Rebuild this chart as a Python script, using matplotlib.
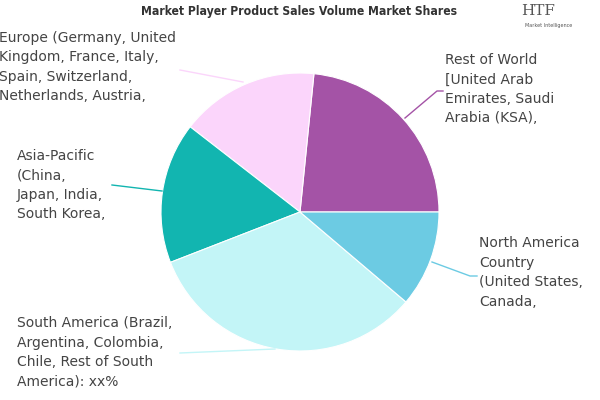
import numpy as np
import matplotlib
matplotlib.use("Agg")
import matplotlib.pyplot as plt

# slice data, counter-clockwise from 3 o'clock
regions = ["Rest of World", "Europe", "Asia-Pacific", "South America", "North America"]
shares = [23.4, 16.1, 16.4, 32.9, 11.2]
colors = ["#a453a6", "#fbd5fb", "#12b5b0", "#c3f5f7", "#6ccbe3"]
labels = [
    "Rest of World\n[United Arab\nEmirates, Saudi\nArabia (KSA),",
    "Europe (Germany, United\nKingdom, France, Italy,\nSpain, Switzerland,\nNetherlands, Austria,",
    "Asia-Pacific\n(China,\nJapan, India,\nSouth Korea,",
    "South America (Brazil,\nArgentina, Colombia,\nChile, Rest of South\nAmerica): xx%",
    "North America\nCountry\n(United States,\nCanada,",
]
title = "Market Player Product Sales Volume Market Shares"

# layout in pixel coords (image y downwards)
label_pos = [(445, 56), (-1, 34), (17, 152), (17, 319), (479, 239)]
leaders = [
    [(405, 118), (437, 91), (443, 91)],
    [(243, 82), (180, 70)],
    [(162, 191), (112, 185)],
    [(275, 349), (180, 353)],
    [(432, 262), (470, 276), (477, 276)],
]

H = 400
fig = plt.figure(figsize=(6, 4), dpi=100)
ax = fig.add_axes([0, 0, 1, 1])

ax.pie(shares, colors=colors, startangle=0, counterclock=True,
       center=(300, H - 212), radius=139, frame=True,
       wedgeprops=dict(linewidth=0.8, edgecolor="white"))
ax.set_xlim(0, 600)
ax.set_ylim(0, H)
ax.axis("off")

for pts, c in zip(leaders, colors):
    xs = [p[0] for p in pts]
    ys = [H - p[1] for p in pts]
    ax.plot(xs, ys, color=c, lw=1)

for (x, y), lab in zip(label_pos, labels):
    ax.text(x, H - y + 3, lab, ha="left", va="top", fontsize=10,
            color="#444444", linespacing=1.5, family="DejaVu Sans")

ax.text(299, H - 12, title, ha="center", va="center", fontsize=8.7,
        fontweight="bold", fontstretch="condensed", color="#333333",
        family="DejaVu Sans")

# logo
ax.text(538, H - 11, "HTF", ha="center", va="center", fontsize=11,
        color="#555555", family="DejaVu Serif")
ax.text(549, H - 25, "Market Intelligence", ha="center", va="center",
        fontsize=3.5, color="#555555")

fig.savefig("out.png", dpi=100, facecolor="white")
